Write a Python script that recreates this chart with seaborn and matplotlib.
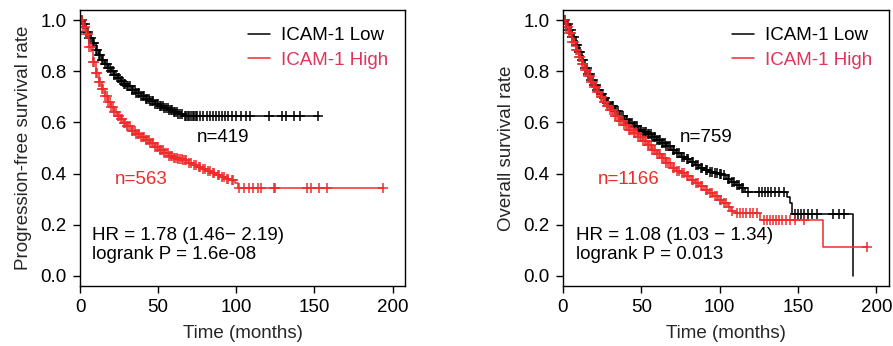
import numpy as np
import pandas as pd
import matplotlib
matplotlib.use("Agg")
import matplotlib.pyplot as plt
import seaborn as sns
from matplotlib.lines import Line2D

sns.set_theme(style="white")
plt.rcParams['font.family'] = ['Liberation Sans', 'DejaVu Sans']

# ---------------- data ----------------
# Panel A: progression-free survival
pfs_low_t = [0, 2, 4, 6, 8, 10, 12, 14, 16, 18, 20, 22, 24, 26, 28, 30, 33, 36, 39, 42,
             45, 48, 51, 54, 57, 60, 63, 66, 153]
pfs_low_s = [1.0, 0.985, 0.955, 0.93, 0.91, 0.885, 0.862, 0.845, 0.828, 0.812, 0.80, 0.787,
             0.775, 0.763, 0.752, 0.742, 0.728, 0.715, 0.703, 0.693, 0.682, 0.672, 0.663,
             0.656, 0.648, 0.641, 0.634, 0.626, 0.626]
pfs_low_cens = [1, 2, 3, 4, 5, 6, 7, 8, 9, 10, 11, 12, 13, 14, 15, 16, 17, 18, 19, 20, 21, 22,
                23, 24, 25, 26, 27, 28, 29, 30, 31, 32, 33, 34, 35, 36, 37, 38, 39, 40, 41, 42,
                43, 44, 45, 46, 47, 48, 49, 50, 51, 52, 53, 54, 55, 56, 57, 58, 59, 60, 61, 62,
                63, 64, 65, 67, 68, 69, 70, 71, 72, 73, 74, 75, 77, 79, 81, 83, 85, 87, 89, 91,
                93, 95, 97, 100, 103, 106, 109, 121, 129, 132, 137, 141, 152]

pfs_high_t = [0, 2, 4, 6, 8, 10, 12, 14, 16, 18, 20, 22, 24, 26, 28, 30, 33, 36, 39, 42, 45,
              48, 51, 54, 57, 60, 63, 66, 69, 72, 75, 78, 81, 84, 87, 90, 93, 96, 99, 101, 194]
pfs_high_s = [1.0, 0.975, 0.945, 0.895, 0.835, 0.795, 0.76, 0.73, 0.705, 0.68, 0.66, 0.642,
              0.627, 0.612, 0.598, 0.585, 0.568, 0.556, 0.544, 0.532, 0.518, 0.503, 0.493,
              0.48, 0.468, 0.462, 0.458, 0.452, 0.442, 0.435, 0.425, 0.418, 0.41, 0.404,
              0.395, 0.385, 0.378, 0.376, 0.365, 0.343, 0.343]
pfs_high_cens = [1, 2, 3, 4, 5, 6, 7, 8, 9, 10, 11, 12, 13, 14, 15, 16, 17, 18, 19, 20, 21, 22,
                 23, 24, 25, 26, 27, 28, 29, 30, 31, 32, 33, 34, 35, 36, 37, 38, 39, 40, 41,
                 42, 43, 44, 45, 46, 47, 48, 49, 50, 51, 52, 53, 54, 55, 56, 57, 58, 59, 60,
                 61, 62, 63, 64, 65, 66, 67, 68, 70, 71, 73, 74, 76, 77, 79, 80, 82, 83, 85,
                 86, 88, 89, 91, 92, 94, 95, 97, 98, 102, 105, 108, 111, 114, 116, 124, 125,
                 145, 148, 153, 158, 194]

# Panel B: overall survival
os_low_t = [0, 2, 4, 6, 8, 10, 12, 14, 16, 18, 20, 22, 24, 26, 28, 30, 33, 36, 39, 42, 45,
            48, 51, 54, 57, 60, 63, 66, 69, 72, 75, 78, 81, 84, 87, 90, 93, 96, 99, 102, 104,
            107, 110, 113, 116, 143, 145, 146, 185]
os_low_s = [1.0, 0.985, 0.96, 0.935, 0.905, 0.875, 0.845, 0.815, 0.79, 0.765, 0.745, 0.727,
            0.71, 0.695, 0.678, 0.663, 0.645, 0.625, 0.61, 0.597, 0.585, 0.572, 0.564, 0.555,
            0.543, 0.532, 0.521, 0.508, 0.494, 0.48, 0.466, 0.458, 0.447, 0.432, 0.421,
            0.413, 0.405, 0.402, 0.398, 0.393, 0.38, 0.368, 0.355, 0.342, 0.327, 0.31, 0.285,
            0.24, 0.0]
os_low_cens = [1, 2, 3, 4, 5, 6, 7, 8, 9, 10, 11, 12, 13, 14, 15, 16, 17, 18, 19, 20, 21, 22,
               23, 24, 25, 26, 27, 28, 29, 30, 31, 32, 33, 34, 35, 36, 37, 38, 39, 40, 41, 42,
               43, 44, 45, 46, 47, 48, 49, 50, 51, 52, 53, 54, 55, 56, 57, 58, 59, 60, 61, 62,
               63, 64, 65, 66, 67, 68, 70, 71, 73, 74, 76, 77, 79, 80, 82, 83, 85, 86, 88, 89,
               91, 92, 94, 95, 97, 98, 100, 101, 103, 105, 106, 108, 109, 111, 112, 114, 115,
               118, 125, 127, 129, 131, 133, 135, 138, 141, 148, 150, 152, 154, 156, 159, 162,
               172, 176, 179]

os_high_t = [0, 2, 4, 6, 8, 10, 12, 14, 16, 18, 20, 22, 24, 26, 28, 30, 33, 36, 39, 42, 45,
             48, 51, 54, 57, 60, 63, 66, 69, 72, 75, 78, 81, 84, 87, 90, 93, 96, 99, 102, 105,
             107, 110, 126, 166, 194]
os_high_s = [1.0, 0.975, 0.95, 0.915, 0.885, 0.855, 0.828, 0.805, 0.782, 0.76, 0.738, 0.718,
             0.698, 0.68, 0.663, 0.647, 0.627, 0.606, 0.589, 0.572, 0.557, 0.543, 0.529, 0.51,
             0.492, 0.477, 0.46, 0.44, 0.42, 0.41, 0.402, 0.39, 0.375, 0.362, 0.35, 0.337,
             0.325, 0.312, 0.298, 0.283, 0.268, 0.252, 0.245, 0.22, 0.111, 0.111]
os_high_cens = [1, 2, 3, 4, 5, 6, 7, 8, 9, 10, 11, 12, 13, 14, 15, 16, 17, 18, 19, 20, 21, 22,
                23, 24, 25, 26, 27, 28, 29, 30, 31, 32, 33, 34, 35, 36, 37, 38, 39, 40, 41,
                42, 43, 44, 45, 46, 47, 48, 49, 50, 51, 52, 53, 54, 55, 56, 57, 58, 59, 60,
                61, 62, 63, 64, 65, 66, 67, 68, 70, 71, 73, 74, 76, 77, 79, 80, 82, 83, 85,
                86, 88, 89, 91, 92, 94, 95, 97, 98, 100, 101, 103, 104, 106, 108, 111, 113,
                115, 117, 119, 121, 124, 128, 130, 132, 134, 136, 138, 140, 142, 145, 148,
                154, 194]

panels = [
    dict(ylabel="Progression-free survival rate",
         low=(pfs_low_t, pfs_low_s, pfs_low_cens), high=(pfs_high_t, pfs_high_s, pfs_high_cens),
         n_low="n=419", n_low_pos=(75, 0.543), n_high="n=563", n_high_pos=(22, 0.375),
         hr="HR = 1.78 (1.46\u2212 2.19)", p="logrank P = 1.6e-08"),
    dict(ylabel="Overall survival rate",
         low=(os_low_t, os_low_s, os_low_cens), high=(os_high_t, os_high_s, os_high_cens),
         n_low="n=759", n_low_pos=(74.5, 0.541), n_high="n=1166", n_high_pos=(22, 0.375),
         hr="HR = 1.08 (1.03 \u2212 1.34)", p="logrank P = 0.013"),
]
group_labels = ["ICAM-1 Low", "ICAM-1 High"]
xticks = [0, 50, 100, 150, 200]
yticks = [0.0, 0.2, 0.4, 0.6, 0.8, 1.0]

BLACK = "#000000"
RED = "#EE2C2C"
RED_TEXT = "#E0335A"

W, H = 893, 346
fig = plt.figure(figsize=(W / 100, H / 100), dpi=100)
ax_rects = [(80, 405), (563, 889)]
top_px, bot_px = 10, 286

FS = 13.5


def step_at(t, s, x):
    t = np.asarray(t, float)
    s = np.asarray(s, float)
    idx = np.searchsorted(t, np.asarray(x, float), side="right") - 1
    return s[np.clip(idx, 0, len(s) - 1)]


for (l, r), p in zip(ax_rects, panels):
    ax = fig.add_axes([l / W, 1 - bot_px / H, (r - l) / W, (bot_px - top_px) / H])
    for (t, s, cens), col in [(p["low"], BLACK), (p["high"], RED)]:
        df = pd.DataFrame({"t": t, "s": s})
        sns.lineplot(data=df, x="t", y="s", ax=ax, color=col, lw=1.1,
                     drawstyle="steps-post", estimator=None, sort=False)
        cdf = pd.DataFrame({"t": cens, "s": step_at(t, s, cens)})
        ax.plot(cdf["t"], cdf["s"], ls="none", marker="+", ms=7, mew=1.1, color=col)

    ax.set_xlim(0, 208)
    ax.set_ylim(-0.04, 1.04)
    ax.set_xticks(xticks)
    ax.set_xticklabels([str(x) for x in xticks])
    ax.set_yticks(yticks)
    ax.set_yticklabels([f"{y:.1f}" for y in yticks])
    ax.tick_params(axis="both", direction="out", length=5, width=1, labelsize=FS,
                   pad=4.5, color="black", labelcolor="black")
    ax.tick_params(axis="both", which="both", bottom=True, left=True)
    for sp in ax.spines.values():
        sp.set_visible(True)
        sp.set_color("black")
        sp.set_linewidth(1.0)
    ax.set_xlabel("Time (months)", fontsize=FS, labelpad=6)
    ax.set_ylabel(p["ylabel"], fontsize=FS, labelpad=6)

    ax.text(*p["n_low_pos"], p["n_low"], color=BLACK, fontsize=FS, va="center", ha="left")
    ax.text(*p["n_high_pos"], p["n_high"], color=RED, fontsize=FS, va="center", ha="left")
    ax.text(8, 0.156, p["hr"], color=BLACK, fontsize=FS, va="center", ha="left")
    ax.text(8, 0.082, p["p"], color=BLACK, fontsize=FS, va="center", ha="left")

    handles = [Line2D([], [], color=BLACK, lw=1.1), Line2D([], [], color=RED, lw=1.1)]
    leg = ax.legend(handles, group_labels, loc="upper right", frameon=False, fontsize=FS,
                    handlelength=1.2, handletextpad=0.6, labelspacing=0.4,
                    borderaxespad=0.3, bbox_to_anchor=(0.99, 0.985))
    leg.get_texts()[0].set_color(BLACK)
    leg.get_texts()[1].set_color(RED_TEXT)

fig.savefig("out.png", dpi=100)
